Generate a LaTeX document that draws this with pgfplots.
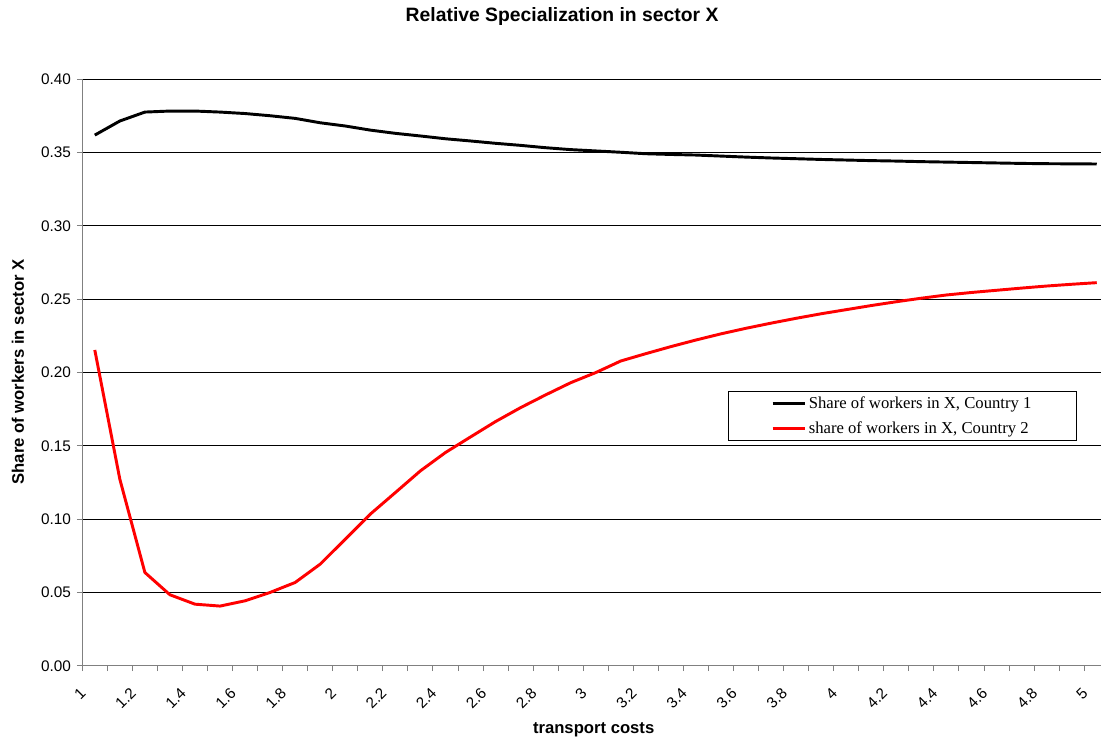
\documentclass[border=0pt]{standalone}
\usepackage{pgfplots}
\pgfplotsset{compat=1.18}
\usepackage{fontspec}
\setmainfont{Liberation Sans}
\newfontfamily\legfont{Liberation Serif}
\begin{document}
\begin{tikzpicture}
\useasboundingbox (-61.7pt,-58pt) rectangle (764pt,499.3pt);
\begin{axis}[
  scale only axis,
  width=764pt, height=440pt,
  xmin=0.95, xmax=5.017, ymin=0, ymax=0.4,
  axis x line=bottom, axis y line=left,
  axis line style={-, draw=gray, line width=0.75pt},
  xtick={1,1.2,...,5.01},
  xticklabels={1,1.2,1.4,1.6,1.8,2,2.2,2.4,2.6,2.8,3,3.2,3.4,3.6,3.8,4,4.2,4.4,4.6,4.8,5},
  minor xtick={0.95,1.05,...,5.0},
  major x tick style={draw=none},
  minor x tick style={draw=gray, line width=0.75pt},
  minor tick length=4pt,
  x tick label style={xshift=-6.4pt, yshift=-12.4pt, rotate=45, anchor=east, font=\fontsize{11.5}{13}\selectfont},
  ytick={0,0.05,...,0.401},
  /pgf/number format/fixed, /pgf/number format/fixed zerofill, /pgf/number format/precision=2,
  /pgf/number format/assume math mode=true,
  yticklabel style={font=\fontsize{11.5}{13}\selectfont, xshift=-1pt},
  ytick style={draw=gray, line width=0.75pt},
  tick align=outside,
  major tick length=4pt,
  ymajorgrids,
  grid style={black, line width=0.6pt},
  xlabel={\bfseries transport costs},
  xlabel style={at={(axis description cs:0.502,-0.1096)}, anchor=center, font=\fontsize{12.5}{14}\selectfont},
  ylabel={\bfseries Share of workers in sector X},
  ylabel style={at={(axis description cs:-0.0631,0.5007)}, anchor=center, rotate=0, font=\fontsize{12.5}{14}\selectfont},
  title={\bfseries Relative Specialization in sector X},
  title style={at={(axis description cs:0.471,1.0925)}, anchor=center, font=\fontsize{14.5}{16}\selectfont},
  legend style={at={(axis description cs:0.634,0.468)}, anchor=north west, draw=black, line width=0.6pt, fill=white,
    inner xsep=32pt, inner ysep=2pt, font=\legfont\fontsize{12.5}{14}\selectfont, row sep=4pt},
  legend cell align=left,
  legend image code/.code={\draw[#1] (0pt,0pt) -- (24pt,0pt);},
]
\addplot[black, line width=2.2pt] coordinates {
(1.0,0.3618)(1.1,0.3714)(1.2,0.3775)(1.3,0.3782)(1.4,0.3782)(1.5,0.3775)(1.6,0.3765)(1.7,0.3750)
(1.8,0.3732)(1.9,0.3702)(2.0,0.3680)(2.1,0.3652)(2.2,0.3630)(2.3,0.3612)(2.4,0.3593)(2.5,0.3578)
(2.6,0.3562)(2.7,0.3548)(2.8,0.3532)(2.9,0.3519)(3.0,0.3510)(3.1,0.3501)(3.2,0.3491)(3.3,0.3486)
(3.4,0.3482)(3.5,0.3475)(3.6,0.3468)(3.7,0.3462)(3.8,0.3457)(3.9,0.3452)(4.0,0.3448)(4.1,0.3444)
(4.2,0.3441)(4.3,0.3437)(4.4,0.3434)(4.5,0.3431)(4.6,0.3428)(4.7,0.3425)(4.8,0.3423)(4.9,0.3422)(5.0,0.3421)
};
\addlegendentry{Share of workers in X, Country 1}
\addplot[red, line width=2.2pt] coordinates {
(1.0,0.2153)(1.1,0.1272)(1.2,0.0636)(1.3,0.0484)(1.4,0.0420)(1.5,0.0407)(1.6,0.0443)(1.7,0.0500)
(1.8,0.0568)(1.9,0.0693)(2.0,0.0863)(2.1,0.1034)(2.2,0.1181)(2.3,0.1329)(2.4,0.1454)(2.5,0.1560)
(2.6,0.1665)(2.7,0.1760)(2.8,0.1847)(2.9,0.1930)(3.0,0.1999)(3.1,0.2078)(3.2,0.2128)(3.3,0.2176)
(3.4,0.2221)(3.5,0.2263)(3.6,0.2301)(3.7,0.2336)(3.8,0.2369)(3.9,0.2400)(4.0,0.2428)(4.1,0.2456)
(4.2,0.2482)(4.3,0.2506)(4.4,0.2528)(4.5,0.2545)(4.6,0.2560)(4.7,0.2575)(4.8,0.2589)(4.9,0.2601)(5.0,0.2612)
};
\addlegendentry{share of workers in X, Country 2}
\end{axis}
\end{tikzpicture}
\end{document}
